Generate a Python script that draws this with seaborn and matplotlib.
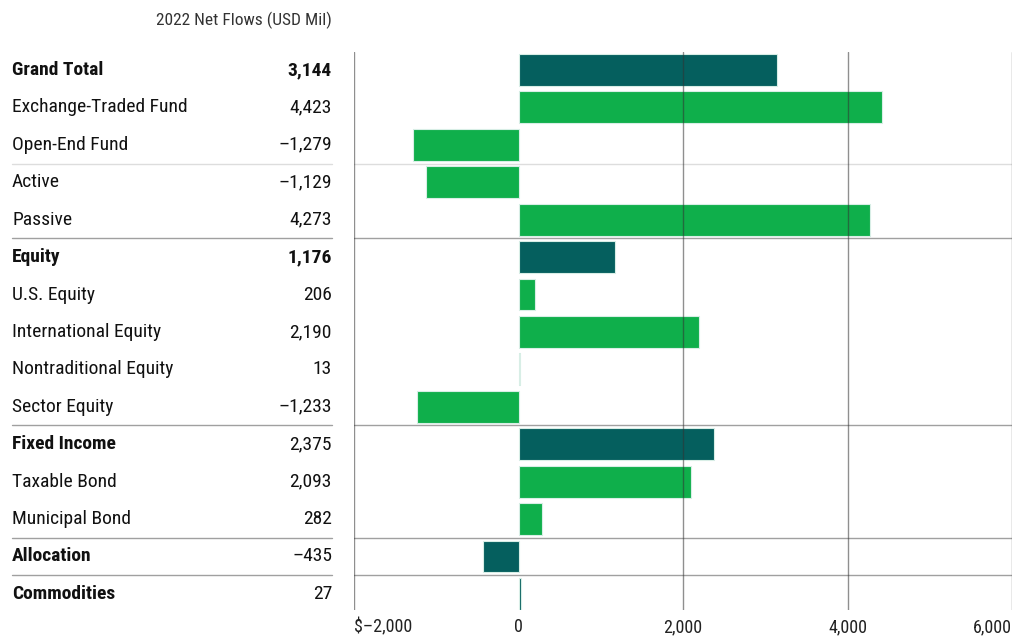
import matplotlib
matplotlib.use("Agg")
import matplotlib.pyplot as plt
import matplotlib.transforms as mtransforms
from matplotlib.lines import Line2D
import seaborn as sns
import pandas as pd

# Data
categories = ["Grand Total", "Exchange-Traded Fund", "Open-End Fund", "Active", "Passive",
              "Equity", "U.S. Equity", "International Equity", "Nontraditional Equity",
              "Sector Equity", "Fixed Income", "Taxable Bond", "Municipal Bond",
              "Allocation", "Commodities"]
flows = [3144, 4423, -1279, -1129, 4273, 1176, 206, 2190, 13, -1233,
         2375, 2093, 282, -435, 27]
kind = ["total", "sub", "sub", "sub", "sub", "total", "sub", "sub", "sub", "sub",
        "total", "sub", "sub", "total", "total"]
bold_value = ["Grand Total", "Equity"]
light_sep = [2.5]
dark_sep = [4.5, 9.5, 12.5, 13.5]
xticks = [-2000, 0, 2000, 4000, 6000]
xtick_labels = ["$\u20132,000", "0", "2,000", "4,000", "6,000"]

df = pd.DataFrame({"category": categories, "flows": flows, "kind": kind})

sns.set_style("white")
plt.rcParams["font.family"] = ["Roboto Condensed", "Liberation Sans Narrow", "Roboto", "DejaVu Sans"]

W, H = 1016, 637
fig = plt.figure(figsize=(W / 100, H / 100), dpi=100)
ax = fig.add_axes([354 / W, 1 - 610 / H, (1012 - 354) / W, (610 - 52) / H])

palette = {"total": "#055f5e", "sub": "#0faf4b"}
sns.barplot(data=df, x="flows", y="category", hue="kind", palette=palette,
            order=categories, dodge=False, width=0.85, legend=False,
            edgecolor="#d8eee6", linewidth=0.8, saturation=1, ax=ax)

ax.set_xlim(-2000, 6000)
ax.set_ylim(14.43, -0.48)
for s in ax.spines.values():
    s.set_visible(False)
ax.set_xlabel("")
ax.set_ylabel("")
ax.set_yticks([])
ax.set_xticks(xticks)
ax.set_xticklabels(xtick_labels, fontsize=13, color="#222222")
ax.tick_params(axis="x", length=0, pad=6)
tl = ax.get_xticklabels()
tl[0].set_ha("left")
tl[-1].set_ha("right")

# vertical grid on top of bars
for xv in [-2000, 2000, 4000, 6000]:
    ax.axvline(xv, color="#333333", alpha=0.55, lw=1, zorder=5)

# separators
tr = mtransforms.blended_transform_factory(fig.transFigure, ax.transData)
for y in light_sep + dark_sep:
    col = "#dddddd" if y in light_sep else "#a0a0a0"
    ax.axhline(y, color=col, lw=1, zorder=4)
    fig.add_artist(Line2D([12 / W, 332 / W], [y, y], transform=tr, color=col, lw=1))

# left table
for i, (c, v, k) in enumerate(zip(categories, flows, kind)):
    fw = "bold" if k == "total" else "normal"
    ax.text(12 / W, i, c, transform=tr, ha="left", va="center", fontsize=14,
            fontweight=fw, color="#111111", clip_on=False)
    txt = f"{abs(v):,}"
    if v < 0:
        txt = "\u2013" + txt
    vw = "bold" if c in bold_value else "normal"
    ax.text(332 / W, i, txt, transform=tr, ha="right", va="center", fontsize=14,
            fontweight=vw, color="#111111", clip_on=False)

fig.text(332 / W, 1 - 20 / H, "2022 Net Flows (USD Mil)", ha="right", va="center",
         fontsize=12.5, color="#333333")

fig.savefig("out.png", dpi=100)
